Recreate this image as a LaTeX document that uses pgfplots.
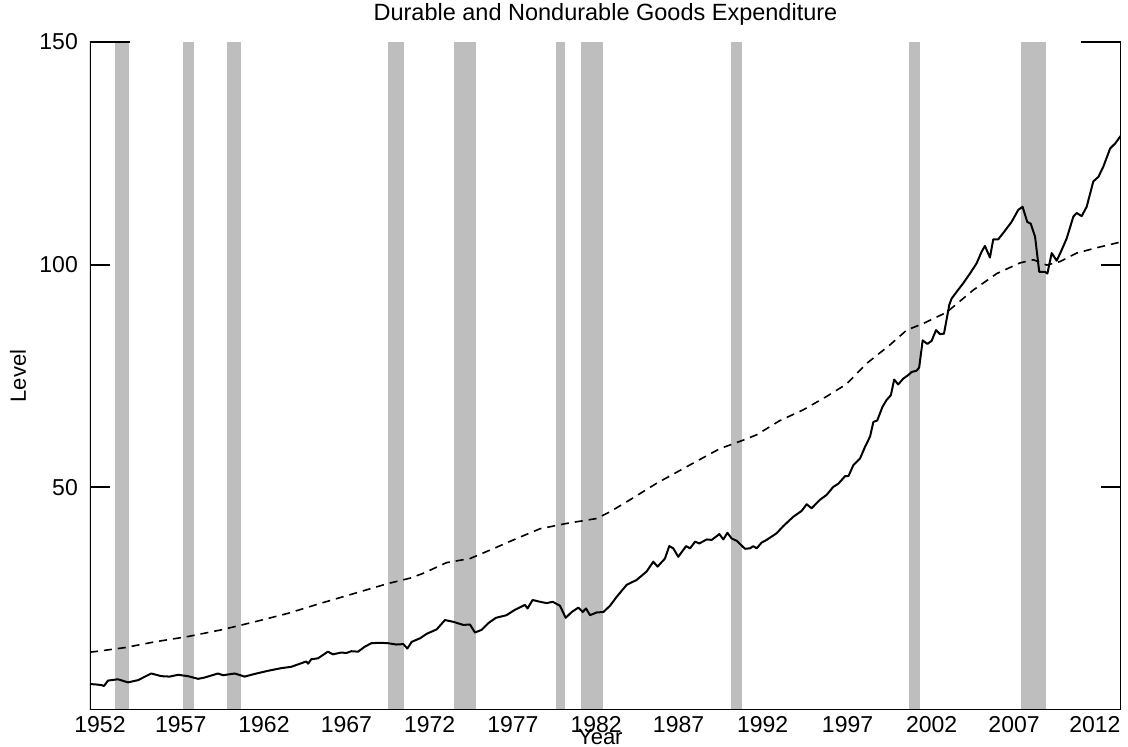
\documentclass[border=0pt]{standalone}
\usepackage{fontspec}
\setmainfont{Liberation Sans}
\usepackage{pgfplots}
\pgfplotsset{compat=1.18}
\definecolor{recgray}{RGB}{190,190,190}
\begin{document}
\begin{tikzpicture}
\path[use as bounding box] (-90pt,-37pt) rectangle (1038pt,710pt);
\begin{axis}[
  at={(0,0)}, anchor=south west,
  width=1031pt, height=668pt, scale only axis,
  xmin=1952, xmax=2013.92, ymin=0, ymax=150,
  axis line style={draw=none},
  ytick={50,100,150},
  ytick pos=both, yticklabel pos=left,
  tick align=inside,
  major tick length=20pt,
  ytick style={black, line width=2pt},
  xtick={1952.6,1957.45,1962.45,1967.4,1972.4,1977.4,1982.4,1987.35,1992.4,1997.5,2002.55,2007.5,2012.35},
  xticklabels={1952,1957,1962,1967,1972,1977,1982,1987,1992,1997,2002,2007,2012},
  xtick style={draw=none},
  tick label style={inner sep=0pt, font=\fontsize{23}{25}\selectfont},
  xticklabel style={anchor=north, yshift=-6pt},
  yticklabel style={anchor=east, xshift=-12pt},
  /pgf/number format/assume math mode=true,
  title={Durable and Nondurable Goods Expenditure},
  title style={font=\fontsize{23.5}{25}\selectfont, inner sep=0pt, at={(axis description cs:0.5,1.0225)}, anchor=base},
  xlabel={Year},
  xlabel style={font=\fontsize{22}{24}\selectfont, inner sep=0pt, at={(axis description cs:0.495,-0.0284)}, anchor=north},
  ylabel={Level},
  ylabel style={font=\fontsize{22}{24}\selectfont, inner sep=0pt, at={(axis description cs:-0.0698,0.5)}, anchor=center, rotate=0},
]
% recession shading
\addplot[fill=recgray, draw=none] coordinates {(1953.5,0) (1953.5,150) (1954.333,150) (1954.333,0)} --cycle;
\addplot[fill=recgray, draw=none] coordinates {(1957.583,0) (1957.583,150) (1958.25,150) (1958.25,0)} --cycle;
\addplot[fill=recgray, draw=none] coordinates {(1960.25,0) (1960.25,150) (1961.083,150) (1961.083,0)} --cycle;
\addplot[fill=recgray, draw=none] coordinates {(1969.917,0) (1969.917,150) (1970.833,150) (1970.833,0)} --cycle;
\addplot[fill=recgray, draw=none] coordinates {(1973.833,0) (1973.833,150) (1975.167,150) (1975.167,0)} --cycle;
\addplot[fill=recgray, draw=none] coordinates {(1980.0,0) (1980.0,150) (1980.5,150) (1980.5,0)} --cycle;
\addplot[fill=recgray, draw=none] coordinates {(1981.5,0) (1981.5,150) (1982.833,150) (1982.833,0)} --cycle;
\addplot[fill=recgray, draw=none] coordinates {(1990.5,0) (1990.5,150) (1991.167,150) (1991.167,0)} --cycle;
\addplot[fill=recgray, draw=none] coordinates {(2001.167,0) (2001.167,150) (2001.833,150) (2001.833,0)} --cycle;
\addplot[fill=recgray, draw=none] coordinates {(2007.917,0) (2007.917,150) (2009.417,150) (2009.417,0)} --cycle;
% nondurable (dashed)
\addplot[black, line width=1.6pt, dash pattern=on 8pt off 6pt] coordinates {
(1952.0,13.0) (1952.28,13.1) (1954.08,14.0) (1955.88,15.3) (1957.89,16.5) (1959.89,18.0)
(1961.89,19.8) (1963.89,21.7) (1965.89,24.0) (1967.9,26.2) (1969.9,28.4) (1971.22,29.6)
(1972.02,30.7) (1973.42,33.1) (1974.82,34.0) (1976.02,35.9) (1977.62,38.5) (1979.03,40.7)
(1980.63,41.9) (1982.43,43.0) (1983.23,44.5) (1984.43,47.2) (1986.03,50.9) (1987.63,54.2)
(1989.19,57.4) (1989.84,58.7) (1991.24,60.6) (1992.04,61.8) (1993.44,65.0) (1994.84,67.4)
(1996.24,70.4) (1997.44,73.2) (1998.64,77.8) (2000.05,82.0) (2001.05,85.3) (2002.05,86.8)
(2003.45,89.3) (2005.05,94.3) (2006.46,98.0) (2007.86,100.4) (2008.66,101.1) (2009.46,99.9)
(2010.26,100.7) (2011.26,102.6) (2012.46,103.8) (2013.92,105.1)
};
% durable (solid)
\addplot[black, line width=2pt, line join=round] coordinates {
(1952.0,5.8) (1952.28,5.77) (1952.68,5.6) (1952.84,5.4) (1953.08,6.6) (1953.68,6.9)
(1954.28,6.2) (1954.88,6.7) (1955.68,8.2) (1956.28,7.6) (1956.78,7.5) (1957.29,7.9)
(1957.89,7.6) (1958.49,7.0) (1958.89,7.3) (1959.69,8.2) (1959.99,7.8) (1960.69,8.2)
(1961.29,7.5) (1961.89,8.1) (1962.69,8.8) (1963.49,9.4) (1964.09,9.7) (1964.69,10.5)
(1964.99,10.9) (1965.1,10.4) (1965.29,11.4) (1965.69,11.6) (1966.29,13.1) (1966.59,12.5)
(1967.09,12.9) (1967.4,12.8) (1967.69,13.2) (1968.1,13.1) (1968.5,14.2) (1968.9,15.0)
(1969.4,15.1) (1969.9,15.0) (1970.4,14.7) (1970.82,14.8) (1971.06,13.8) (1971.32,15.3)
(1971.82,16.1) (1972.22,17.1) (1972.82,18.1) (1973.32,20.2) (1973.82,19.8) (1974.42,19.1)
(1974.82,19.2) (1975.12,17.4) (1975.52,18.0) (1975.92,19.5) (1976.38,20.7) (1977.02,21.3)
(1977.52,22.5) (1978.12,23.6) (1978.28,22.8) (1978.58,24.7) (1979.03,24.3) (1979.43,24.0)
(1979.79,24.3) (1980.23,23.4) (1980.57,20.7) (1980.93,22.0) (1981.33,23.0) (1981.59,22.0)
(1981.79,22.8) (1982.03,21.3) (1982.43,21.9) (1982.83,22.0) (1983.23,23.4) (1983.63,25.4)
(1984.23,28.1) (1984.83,29.2) (1985.43,31.1) (1985.83,33.3) (1986.09,32.2) (1986.53,34.0)
(1986.79,36.8) (1987.03,36.3) (1987.33,34.4) (1987.8,36.8) (1988.04,36.3) (1988.34,37.8)
(1988.6,37.4) (1989.04,38.3) (1989.34,38.2) (1989.8,39.5) (1990.04,38.3) (1990.28,39.8)
(1990.54,38.5) (1990.84,38.0) (1991.34,36.2) (1991.64,36.3) (1991.84,36.8) (1992.04,36.3)
(1992.34,37.6) (1992.64,38.2) (1993.24,39.7) (1993.64,41.3) (1994.24,43.4) (1994.74,44.7)
(1995.04,46.2) (1995.34,45.3) (1995.84,47.2) (1996.24,48.3) (1996.64,50.1) (1996.94,50.8)
(1997.35,52.5) (1997.55,52.5) (1997.85,55.0) (1998.25,56.5) (1998.55,59.1) (1998.85,61.4)
(1999.05,64.7) (1999.28,65.0) (1999.6,68.1) (1999.84,69.6) (2000.1,70.7) (2000.3,74.2)
(2000.54,73.1) (2000.84,74.4) (2001.14,75.2) (2001.35,75.9) (2001.65,76.2) (2001.8,76.9)
(2002.01,83.0) (2002.29,82.2) (2002.55,82.9) (2002.81,85.3) (2003.05,84.4) (2003.29,84.5)
(2003.61,91.0) (2003.75,92.4) (2004.05,93.9) (2004.44,95.8) (2004.85,98.0) (2005.25,100.3)
(2005.55,102.9) (2005.75,104.2) (2006.05,101.6) (2006.25,105.7) (2006.55,105.7) (2006.95,107.6)
(2007.35,109.6) (2007.75,112.3) (2008.01,113.0) (2008.29,109.6) (2008.5,109.2) (2008.76,106.3)
(2009.01,98.4) (2009.35,98.4) (2009.5,98.0) (2009.76,102.6) (2010.06,100.9) (2010.36,103.3)
(2010.66,105.9) (2011.06,110.8) (2011.26,111.6) (2011.56,110.9) (2011.86,113.0) (2012.26,118.7)
(2012.56,119.7) (2012.86,122.0) (2013.27,126.1) (2013.57,127.2) (2013.92,129.0)
};
% frame: left, bottom, right (no top)
\draw[line width=2pt, line cap=rect] (rel axis cs:0,1) -- (rel axis cs:0,0) -- (rel axis cs:1,0) -- (rel axis cs:1,1);
% longer ticks at 150
\draw[line width=2pt] (rel axis cs:0,1) -- ++(40pt,0pt);
\draw[line width=2pt] (rel axis cs:1,1) -- ++(-40pt,0pt);
\end{axis}
\end{tikzpicture}
\end{document}
